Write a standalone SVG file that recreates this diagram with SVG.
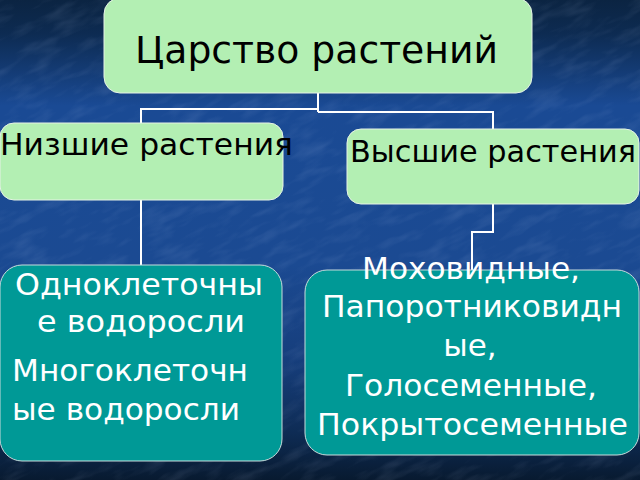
<svg xmlns="http://www.w3.org/2000/svg" width="640" height="480" viewBox="0 0 640 480">
  <defs>
    <linearGradient id="bg" x1="0" y1="0" x2="0" y2="1">
      <stop offset="0" stop-color="#0b2442"/>
      <stop offset="0.07" stop-color="#0d2b52"/>
      <stop offset="0.22" stop-color="#1a4a94"/>
      <stop offset="0.55" stop-color="#1b4a92"/>
      <stop offset="0.75" stop-color="#163e7c"/>
      <stop offset="0.9" stop-color="#0e2c55"/>
      <stop offset="1" stop-color="#081a30"/>
    </linearGradient>
    <filter id="tex" x="0" y="0" width="100%" height="100%">
      <feTurbulence type="fractalNoise" baseFrequency="0.03 0.1" numOctaves="3" seed="4" result="n"/>
      <feColorMatrix type="matrix" values="0 0 0 0 0.6  0 0 0 0 0.7  0 0 0 0 0.95  0 0 0 1.2 -0.55"/>
    </filter>
    <style>
      .g { fill: #b3efb3; stroke: #e6f2e6; stroke-width: 1; }
      .t { fill: #009996; stroke: #c8dcdc; stroke-width: 1; }
      .dark { font-family: "DejaVu Sans", Verdana, sans-serif; fill: #000000; }
      .light { font-family: "DejaVu Sans", Verdana, sans-serif; fill: #ffffff; font-size: 31px; }
      .conn { fill: none; stroke: #ffffff; stroke-width: 2; }
    </style>
  </defs>

  <rect width="640" height="480" fill="url(#bg)"/>
  <g transform="rotate(-25 320 240)">
    <rect x="-200" y="-200" width="1040" height="880" filter="url(#tex)" opacity="0.3"/>
  </g>
  <rect width="640" height="480" fill="url(#bg)" opacity="0.35"/>

  <g id="connectors">
    <polyline class="conn" points="318,93 318,112"/>
    <polyline class="conn" points="318,109 141,109 141,123"/>
    <polyline class="conn" points="318,112 493,112 493,129"/>
    <polyline class="conn" points="141,200 141,265"/>
    <polyline class="conn" points="493,204 493,232 472,232 472,270"/>
  </g>

  <g id="node-root">
    <rect class="g" x="104" y="-2" width="428" height="95" rx="16"/>
    <text class="dark" x="135" y="63" font-size="37" textLength="363" lengthAdjust="spacingAndGlyphs">Царство растений</text>
  </g>

  <g id="node-lower">
    <rect class="g" x="0" y="123" width="283" height="77" rx="14"/>
    <text class="dark" x="0" y="155" font-size="31" textLength="293" lengthAdjust="spacingAndGlyphs">Низшие растения</text>
  </g>

  <g id="node-higher">
    <rect class="g" x="347" y="129" width="292" height="75" rx="14"/>
    <text class="dark" x="350" y="162" font-size="31" textLength="286" lengthAdjust="spacingAndGlyphs">Высшие растения</text>
  </g>

  <g id="node-algae">
    <rect class="t" x="0" y="265" width="282" height="196" rx="22"/>
    <text class="light" x="15" y="295" textLength="248" lengthAdjust="spacingAndGlyphs">Одноклеточны</text>
    <text class="light" x="37" y="332" textLength="208" lengthAdjust="spacingAndGlyphs">е водоросли</text>
    <text class="light" x="12" y="381" textLength="236" lengthAdjust="spacingAndGlyphs">Многоклеточн</text>
    <text class="light" x="12" y="420" textLength="228" lengthAdjust="spacingAndGlyphs">ые водоросли</text>
  </g>

  <g id="node-plants">
    <rect class="t" x="305" y="270" width="334" height="185" rx="22"/>
    <text class="light" x="362" y="279" textLength="218" lengthAdjust="spacingAndGlyphs">Моховидные,</text>
    <text class="light" x="322" y="317" textLength="300" lengthAdjust="spacingAndGlyphs">Папоротниковидн</text>
    <text class="light" x="470" y="356" text-anchor="middle">ые,</text>
    <text class="light" x="345" y="396" textLength="252" lengthAdjust="spacingAndGlyphs">Голосеменные,</text>
    <text class="light" x="317" y="435" textLength="311" lengthAdjust="spacingAndGlyphs">Покрытосеменные</text>
  </g>
</svg>
